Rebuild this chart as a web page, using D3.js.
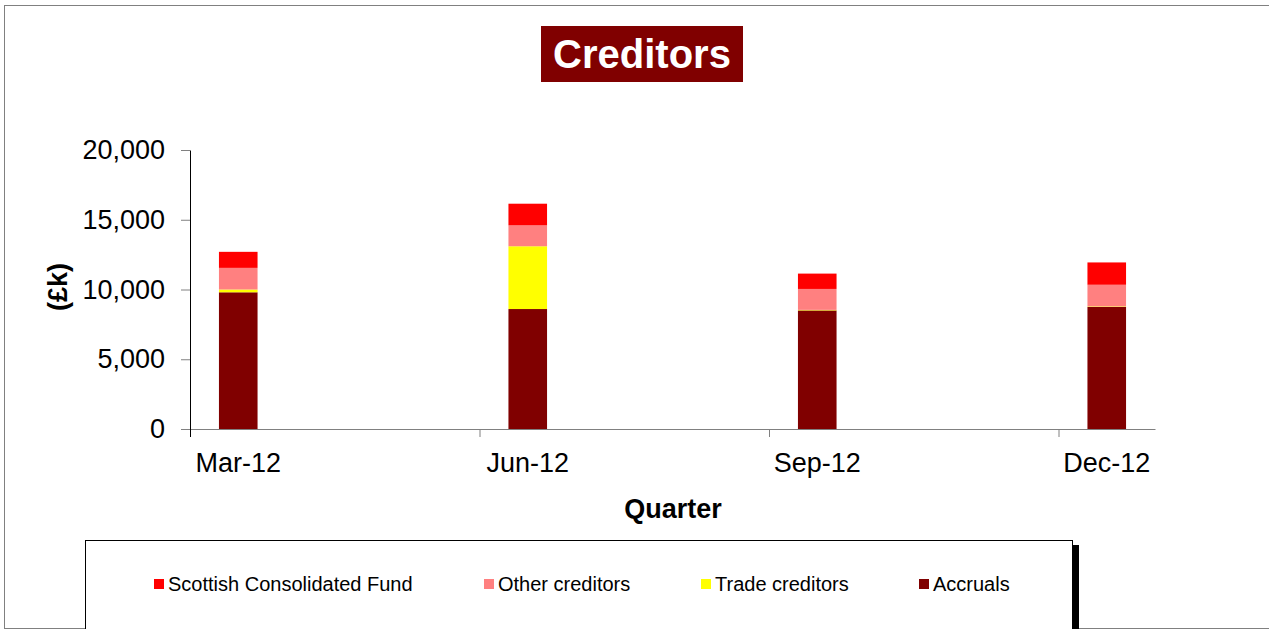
<!DOCTYPE html>
<html>
<head>
<meta charset="utf-8">
<script src="https://cdn.jsdelivr.net/npm/d3@7"></script>
<style>
  body { margin: 0; background: #fff; }
  svg { display: block; font-family: Arial, "Liberation Sans", sans-serif; }
</style>
</head>
<body>
<div class="chart"></div>
<script>
// Data (£k)
const quarters = ['Mar-12', 'Jun-12', 'Sep-12', 'Dec-12'];
const monthIdx = [0, 3, 6, 9]; // months since Mar-12 (date axis)
const accruals = [9800, 8600, 8500, 8750];
const tradeCreditors = [200, 4500, 40, 40];
const otherCreditors = [1550, 1500, 1500, 1550];
const scottishFund = [1150, 1550, 1100, 1600];
const yTicks = [0, 5000, 10000, 15000, 20000];

// series from bottom to top
const seriesKeys = ['Accruals', 'Trade creditors', 'Other creditors', 'Scottish Consolidated Fund'];
const colors = {
    'Accruals': '#800000',
    'Trade creditors': '#ffff00',
    'Other creditors': '#ff8080',
    'Scottish Consolidated Fund': '#ff0000'
};
const legendOrder = ['Scottish Consolidated Fund', 'Other creditors', 'Trade creditors', 'Accruals'];

const rows = quarters.map((q, i) => ({
    quarter: q,
    month: monthIdx[i],
    'Accruals': accruals[i],
    'Trade creditors': tradeCreditors[i],
    'Other creditors': otherCreditors[i],
    'Scottish Consolidated Fund': scottishFund[i]
}));

const W = 1269, H = 629;
const svg = d3.select('.chart').append('svg').attr('width', W).attr('height', H);

// outer frame
svg.append('rect')
    .attr('x', 4.5).attr('y', 5.5).attr('width', 1300).attr('height', 623)
    .attr('fill', 'none').attr('stroke', '#808080');

// title
const title = svg.append('g').attr('class', 'title');
title.append('rect')
    .attr('x', 541).attr('y', 26).attr('width', 202).attr('height', 56)
    .attr('fill', '#800000');
title.append('text')
    .attr('x', 642).attr('y', 54).attr('dy', '0.36em')
    .attr('text-anchor', 'middle')
    .style('font-size', '40px').style('font-weight', 'bold').style('fill', '#fff')
    .text('Creditors');

// scales
const x = d3.scaleLinear().domain([0, 10]).range([190, 1155]);
const y = d3.scaleLinear().domain([0, 20000]).range([429, 150]);
const barW = x(0.4) - x(0);

// stacked bars
const stacked = d3.stack().keys(seriesKeys)(rows);
svg.append('g').attr('class', 'bars')
    .selectAll('g').data(stacked).join('g')
    .attr('fill', d => colors[d.key])
    .selectAll('rect').data(d => d).join('rect')
    .attr('x', d => x(d.data.month + 0.5) - barW / 2)
    .attr('y', d => y(d[1]))
    .attr('width', barW)
    .attr('height', d => y(d[0]) - y(d[1]));

// y axis
const yAxis = d3.axisLeft(y).tickValues(yTicks).tickFormat(d3.format(','))
    .tickSizeInner(9).tickSizeOuter(0).tickPadding(16);
const yAxisDraw = svg.append('g').attr('transform', `translate(${x(0)},0)`).call(yAxis);
yAxisDraw.select('.domain').attr('stroke', '#000');
yAxisDraw.selectAll('.tick line').attr('stroke', '#808080');
yAxisDraw.selectAll('text').style('font-size', '27px').style('fill', '#000')
    .style('font-family', 'Arial, "Liberation Sans", sans-serif');

// x axis (ticks at quarter starts, labels under bars)
const xAxis = d3.axisBottom(x).tickValues(monthIdx).tickFormat('')
    .tickSizeInner(8).tickSizeOuter(0);
const xAxisDraw = svg.append('g').attr('transform', `translate(0,${y(0)})`).call(xAxis);
xAxisDraw.select('.domain').attr('stroke', '#808080');
xAxisDraw.selectAll('.tick line').attr('stroke', '#808080');
xAxisDraw.select('.tick line').attr('stroke', '#000');

svg.append('g').attr('class', 'x-labels')
    .selectAll('text').data(rows).join('text')
    .attr('x', d => x(d.month + 0.5))
    .attr('y', 472)
    .attr('text-anchor', 'middle')
    .style('font-size', '27px')
    .text(d => d.quarter);

// axis titles
svg.append('text')
    .attr('x', 673).attr('y', 518)
    .attr('text-anchor', 'middle')
    .style('font-size', '27px').style('font-weight', 'bold')
    .text('Quarter');
svg.append('text')
    .attr('transform', 'translate(57,287) rotate(-90)')
    .attr('text-anchor', 'middle').attr('dy', '0.36em')
    .style('font-size', '27px').style('font-weight', 'bold')
    .text('(£k)');

// legend box + shadow
svg.append('rect')
    .attr('x', 1073).attr('y', 545).attr('width', 6).attr('height', 100)
    .attr('fill', '#000');
svg.append('rect')
    .attr('x', 85.5).attr('y', 540.5).attr('width', 987).attr('height', 100)
    .attr('fill', '#fff').attr('stroke', '#000');

const legendX = [154, 484, 701, 919];
const legend = svg.append('g').attr('class', 'legend')
    .selectAll('g').data(legendOrder).join('g')
    .attr('transform', (d, i) => `translate(${legendX[i]},584)`);
legend.append('rect')
    .attr('x', 0).attr('y', -5).attr('width', 10).attr('height', 10)
    .attr('fill', d => colors[d]);
legend.append('text')
    .attr('x', 14).attr('dy', '0.36em')
    .style('font-size', '20px')
    .text(d => d);
</script>
</body>
</html>
